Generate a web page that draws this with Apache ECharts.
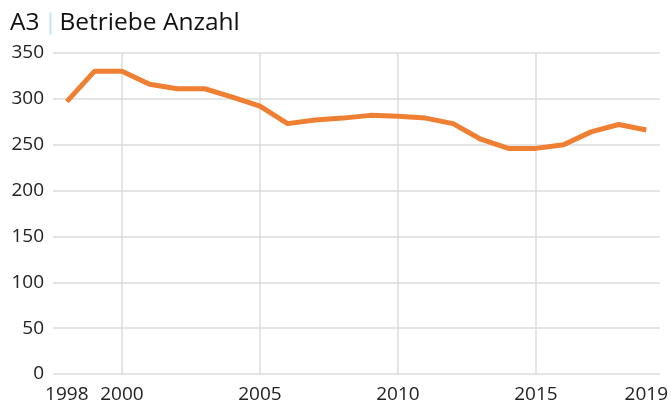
<!DOCTYPE html>
<html>
<head>
<meta charset="utf-8">
<script src="https://cdn.jsdelivr.net/npm/echarts@6/dist/echarts.min.js"></script>
<style>
  html, body { margin: 0; padding: 0; background: #fff; }
  #chart { width: 671px; height: 408px; }
</style>
</head>
<body>
<div id="chart"></div>
<script>
const years = [1998, 1999, 2000, 2001, 2002, 2003, 2004, 2005, 2006, 2007, 2008,
  2009, 2010, 2011, 2012, 2013, 2014, 2015, 2016, 2017, 2018, 2019];
const betriebe = [297, 330, 330, 316, 311, 311, 302, 292, 273, 277, 279,
  282, 281, 279, 273, 256, 246, 246, 250, 264, 272, 266];
const xLabelYears = [1998, 2000, 2005, 2010, 2015, 2019];
const xGridYears = [2000, 2005, 2010, 2015];

const chart = echarts.init(document.getElementById("chart"));
const font = "'Open Sans', 'Noto Sans', sans-serif";

chart.setOption({
  animation: false,
  title: {
    text: "{a|A3}{bar|}{b|Betriebe Anzahl}",
    left: 5,
    top: 6,
    textStyle: {
      rich: {
        a: { fontFamily: font, fontSize: 24.5, fontWeight: "normal", color: "#111", padding: [0, 10, 0, 0] },
        bar: {
          width: 2,
          height: 22,
          backgroundColor: "#c5e3f6",
          padding: 0,
        },
        b: { fontFamily: font, fontSize: 24.5, fontWeight: "normal", color: "#111", padding: [0, 0, 0, 8] },
      },
    },
  },
  grid: {
    left: 53,
    right: 8,
    top: 53,
    bottom: 34,
  },
  xAxis: {
    type: "value",
    min: 1997.5,
    max: 2019.5,
    axisLine: { show: false },
    axisTick: { show: false, customValues: xGridYears },
    axisLabel: {
      customValues: xLabelYears,
      color: "#222",
      fontFamily: font,
      fontSize: 19,
      margin: 11,
      formatter: (v) => String(v),
    },
    splitLine: { show: true, lineStyle: { color: "#dcdcdc", width: 1.5 } },
  },
  yAxis: {
    type: "value",
    min: 0,
    max: 350,
    interval: 50,
    axisLine: { show: false },
    axisTick: { show: false },
    axisLabel: {
      color: "#222",
      fontFamily: font,
      fontSize: 19,
      margin: 9,
    },
    splitLine: { lineStyle: { color: "#dcdcdc", width: 1.5 } },
  },
  series: [
    {
      type: "line",
      data: years.map((y, i) => [y, betriebe[i]]),
      showSymbol: false,
      lineStyle: { color: "#ef7f32", width: 5 },
      itemStyle: { color: "#ef7f32" },
    },
  ],
});
</script>
</body>
</html>
